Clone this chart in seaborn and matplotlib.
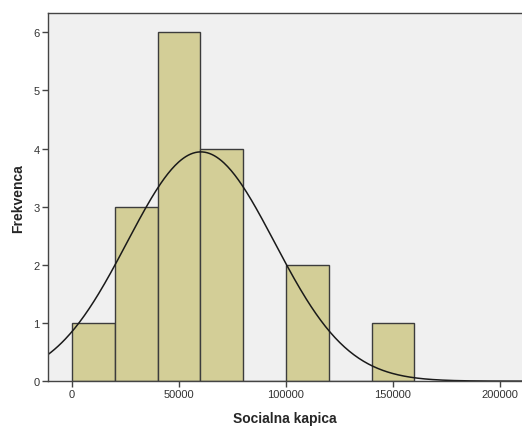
import numpy as np
import pandas as pd
import matplotlib
matplotlib.use('Agg')
import matplotlib.pyplot as plt
import seaborn as sns

# histogram bins (width 20000)
bin_left = [0, 20000, 40000, 60000, 80000, 100000, 120000, 140000]
counts = [1, 3, 6, 4, 0, 2, 0, 1]
bin_width = 20000

# normal curve parameters (SPSS overlay)
mean_val = 60200
sd_val = 34400
n_total = sum(counts)

xticks = [0, 50000, 100000, 150000, 200000]
yticks = [0, 1, 2, 3, 4, 5, 6]

sns.set_style('white')
plt.rcParams['font.family'] = ['Liberation Sans', 'DejaVu Sans']

df = pd.DataFrame({'x': np.array(bin_left) + bin_width / 2, 'w': counts})
edges = list(bin_left) + [bin_left[-1] + bin_width]

fig = plt.figure(figsize=(5.22, 4.27), dpi=100)
ax = fig.add_axes([0.092, 0.105, 0.908, 0.862])
ax.set_facecolor('#F0F0F0')

sns.histplot(data=df, x='x', weights='w', bins=edges, ax=ax,
             color='#D3CE97', edgecolor='#3C3C3C', linewidth=1.0, alpha=1.0)

# normal curve
xs = np.linspace(-11500, 211000, 400)
ys = n_total * bin_width / (sd_val * np.sqrt(2 * np.pi)) * np.exp(-0.5 * ((xs - mean_val) / sd_val) ** 2)
sns.lineplot(x=xs, y=ys, ax=ax, color='#1A1A1A', linewidth=1.1)

ax.set_xlim(-11200, 210300)
ax.set_ylim(0, 6.33)
ax.set_xticks(xticks)
ax.set_xticklabels([str(t) for t in xticks])
ax.set_yticks(yticks)

for s in ['left', 'top', 'bottom']:
    ax.spines[s].set_color('#444444')
    ax.spines[s].set_linewidth(1.0)
ax.spines['right'].set_visible(False)

ax.tick_params(axis='both', direction='out', length=4, width=1, color='#444444',
               labelsize=8, labelcolor='#333333', pad=2, bottom=True, left=True)
ax.set_xlabel('Socialna kapica', fontsize=10, fontweight='bold', labelpad=8)
ax.set_ylabel('Frekvenca', fontsize=10, fontweight='bold', labelpad=6)

fig.savefig('out.png', dpi=100)
